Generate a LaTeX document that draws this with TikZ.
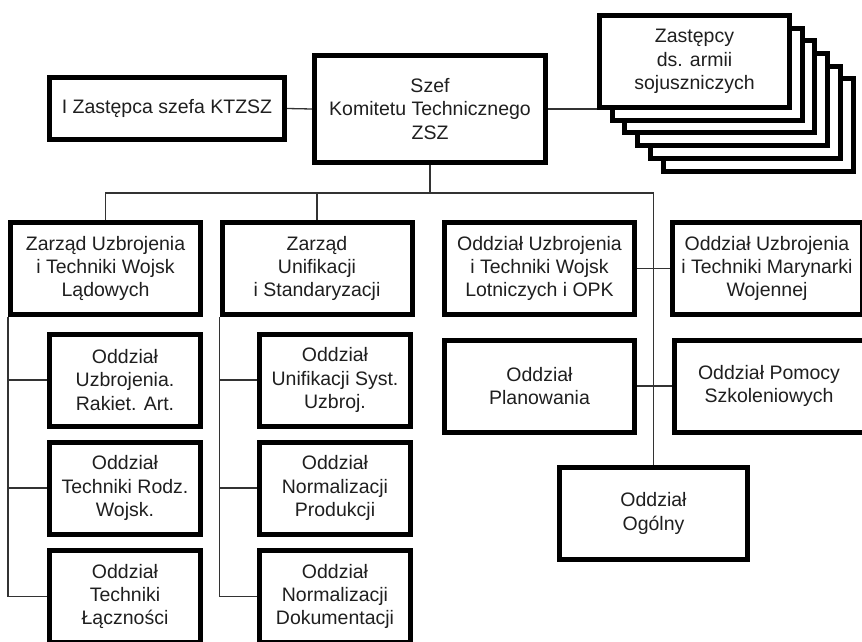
\documentclass[tikz,border=0pt]{standalone}
\usepackage{fontspec}
\setmainfont{Liberation Sans}
\begin{document}
\begin{tikzpicture}[x=1pt,y=-1pt,
  box/.style={draw=black, fill=white, line width=5pt, rectangle, inner sep=0pt,
    align=center, font=\fontsize{19.5}{23.3}\selectfont, text=black!88},
  wide/.style={box, minimum width=190pt, minimum height=92pt},
  narrow/.style={box, minimum width=151pt, minimum height=92pt},
  link/.style={draw=black!80, line width=1.3pt}]
\useasboundingbox (0,0) rectangle (862,642);
% stacked boxes (back to front)
\foreach \k in {5,4,3,2,1} {
  \node[wide] (s\k) at ({694.5+12.7*\k},{61.5+12.7*\k}) {};
}
\node[wide] (front) at (694.5,61.5) {Zastępcy\\ds. armii\\sojuszniczych};
\node[box, minimum width=231pt, minimum height=107pt] (szef) at (430,109) {Szef\\Komitetu Technicznego\\ZSZ};
\node[box, minimum width=235pt, minimum height=62pt] (zast) at (167,108.5) {I Zastępca szefa KTZSZ};
% level 2
\node[wide] (zu) at (105.5,268.5) {Zarząd Uzbrojenia\\i Techniki Wojsk\\Lądowych};
\node[wide] (zun) at (317,268.5) {Zarząd\\Unifikacji\\i Standaryzacji};
\node[wide] (lot) at (539.5,268.5) {Oddział Uzbrojenia\\i Techniki Wojsk\\Lotniczych i OPK};
\node[wide] (mar) at (767,268.5) {Oddział Uzbrojenia\\i Techniki Marynarki\\Wojennej};
\node[wide] (plan) at (539.5,386) {Oddział\\Planowania};
\node[wide] (pom) at (769,386) {Oddział Pomocy\\Szkoleniowych};
\node[wide, minimum width=188pt] (ogol) at (653.5,513.5) {Oddział\\Ogólny};
% sub boxes
\node[narrow] (l1) at (125,380) {Oddział\\Uzbrojenia.\\Rakiet. Art.};
\node[narrow] (l2) at (125,488) {Oddział\\Techniki Rodz.\\Wojsk.};
\node[narrow] (l3) at (125,596.5) {Oddział\\Techniki\\Łączności};
\node[narrow] (m1) at (335,380) {Oddział\\Unifikacji Syst.\\Uzbroj.};
\node[narrow] (m2) at (335,488) {Oddział\\Normalizacji\\Produkcji};
\node[narrow] (m3) at (335,596.5) {Oddział\\Normalizacji\\Dokumentacji};
% connectors
\coordinate (bus) at (430,193);
\draw[link] (zast.east) -- (szef.west);
\draw[link] (szef.east) -- (szef.east -| front.west);
\draw[link] (szef.south) -- (bus);
\draw[link] (zu.north) |- (bus) -| (ogol.north);
\draw[link] (zun.north) -- (zun.north |- bus);
\draw[link] (lot.east) -- (mar.west);
\draw[link] (plan.east) -- (pom.west);
\draw[link] (zu.south west) |- (l3.west);
\draw[link] (l1.west -| zu.south west) -- (l1.west);
\draw[link] (l2.west -| zu.south west) -- (l2.west);
\draw[link] (zun.south west) |- (m3.west);
\draw[link] (m1.west -| zun.south west) -- (m1.west);
\draw[link] (m2.west -| zun.south west) -- (m2.west);
\end{tikzpicture}
\end{document}
